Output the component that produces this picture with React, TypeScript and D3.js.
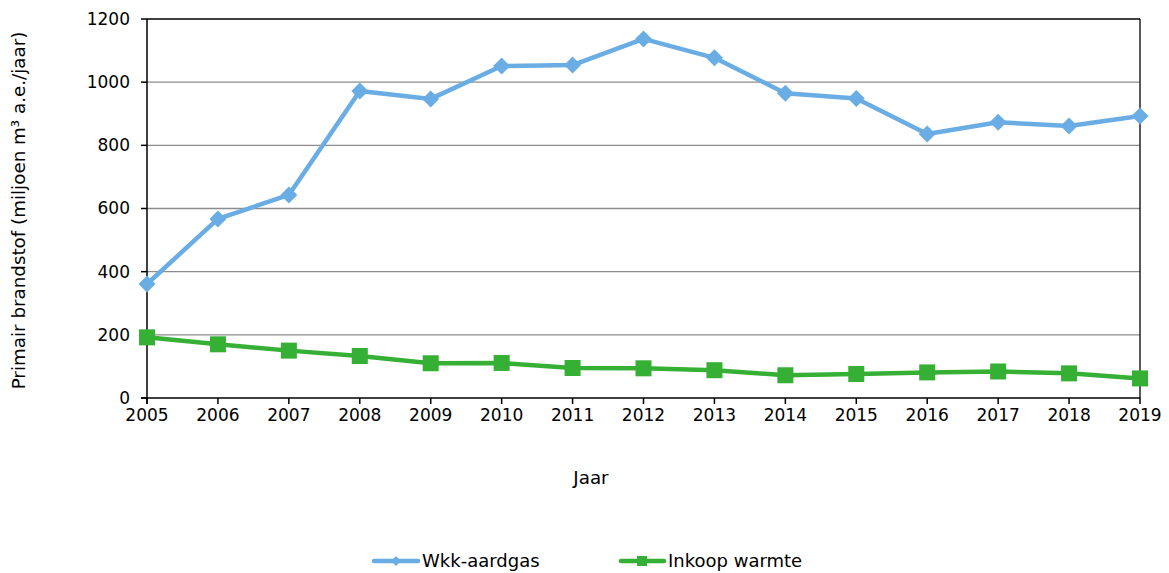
import React from "react";
import * as d3 from "d3";

const years = [2005, 2006, 2007, 2008, 2009, 2010, 2011, 2012, 2013, 2014, 2015, 2016, 2017, 2018, 2019];
const wkkAardgas = [361, 567, 643, 972, 947, 1051, 1054, 1137, 1077, 965, 948, 836, 873, 861, 893];
const inkoopWarmte = [192, 170, 150, 133, 110, 111, 95, 94, 88, 72, 76, 81, 84, 78, 62];
const yTicks = [0, 200, 400, 600, 800, 1000, 1200];

const W = 1169;
const H = 573;
const left = 147;
const right = 1140;
const top = 19;
const bottom = 398;
const FONT = "'DejaVu Sans', Verdana, sans-serif";
const BLUE = "#6AADE4";
const GREEN = "#35B035";

export default function App() {
  const x = d3.scaleLinear().domain([2005, 2019]).range([left, right]);
  const y = d3.scaleLinear().domain([0, 1200]).range([bottom, top]);
  const line = d3
    .line<number>()
    .x((_, i) => x(years[i]))
    .y((d) => y(d));

  return (
    <svg width={W} height={H} style={{ position: "absolute", left: 0, top: 0, background: "#fff" }}>
      {yTicks.slice(1, -1).map((t) => (
        <line key={t} x1={left} x2={right} y1={y(t)} y2={y(t)} stroke="#8c8c8c" strokeWidth={1.3} />
      ))}
      <line x1={left} x2={right} y1={top} y2={top} stroke="#000" strokeWidth={1.3} />
      <line x1={right} x2={right} y1={top} y2={bottom} stroke="#000" strokeWidth={1.3} />
      <line x1={left} x2={left} y1={top} y2={bottom + 6} stroke="#000" strokeWidth={1.5} />
      <line x1={left - 6} x2={right} y1={bottom} y2={bottom} stroke="#000" strokeWidth={1.5} />
      {yTicks.map((t) => (
        <g key={t}>
          <line x1={left - 6} x2={left} y1={y(t)} y2={y(t)} stroke="#000" strokeWidth={1.5} />
          <text x={left - 17} y={y(t)} dy="0.35em" textAnchor="end" fontFamily={FONT} fontSize={17} fill="#000">
            {t}
          </text>
        </g>
      ))}
      {years.map((yr) => (
        <g key={yr}>
          <line x1={x(yr)} x2={x(yr)} y1={bottom} y2={bottom + 6} stroke="#000" strokeWidth={1.5} />
          <text x={x(yr)} y={bottom + 23} textAnchor="middle" fontFamily={FONT} fontSize={17} fill="#000">
            {yr}
          </text>
        </g>
      ))}
      <text
        transform={`translate(25, ${(top + bottom) / 2 + 2}) rotate(-90)`}
        textAnchor="middle"
        fontFamily={FONT}
        fontSize={18.3}
        fill="#000"
      >
        Primair brandstof (miljoen m³ a.e./jaar)
      </text>
      <text x={591} y={484} textAnchor="middle" fontFamily={FONT} fontSize={18.3} fill="#000">
        Jaar
      </text>

      <path d={line(wkkAardgas) ?? ""} fill="none" stroke={BLUE} strokeWidth={4.5} strokeLinejoin="round" />
      {wkkAardgas.map((v, i) => (
        <path
          key={i}
          d={`M${x(years[i])},${y(v) - 8.5}L${x(years[i]) + 8.5},${y(v)}L${x(years[i])},${y(v) + 8.5}L${x(years[i]) - 8.5},${y(v)}Z`}
          fill={BLUE}
        />
      ))}
      <path d={line(inkoopWarmte) ?? ""} fill="none" stroke={GREEN} strokeWidth={4.5} strokeLinejoin="round" />
      {inkoopWarmte.map((v, i) => (
        <rect key={i} x={x(years[i]) - 8} y={y(v) - 8} width={16} height={16} fill={GREEN} />
      ))}

      <g>
        <line x1={374} x2={418} y1={561} y2={561} stroke={BLUE} strokeWidth={4.5} strokeLinecap="round" />
        <path d="M396,556L401,561L396,566L391,561Z" fill={BLUE} />
        <text x={422} y={561} dy="0.35em" fontFamily={FONT} fontSize={18} fill="#000">
          Wkk-aardgas
        </text>
        <line x1={621} x2={664} y1={561} y2={561} stroke={GREEN} strokeWidth={4.5} strokeLinecap="round" />
        <rect x={637} y={556} width={10} height={10} fill={GREEN} />
        <text x={668} y={561} dy="0.35em" fontFamily={FONT} fontSize={18} fill="#000">
          Inkoop warmte
        </text>
      </g>
    </svg>
  );
}
